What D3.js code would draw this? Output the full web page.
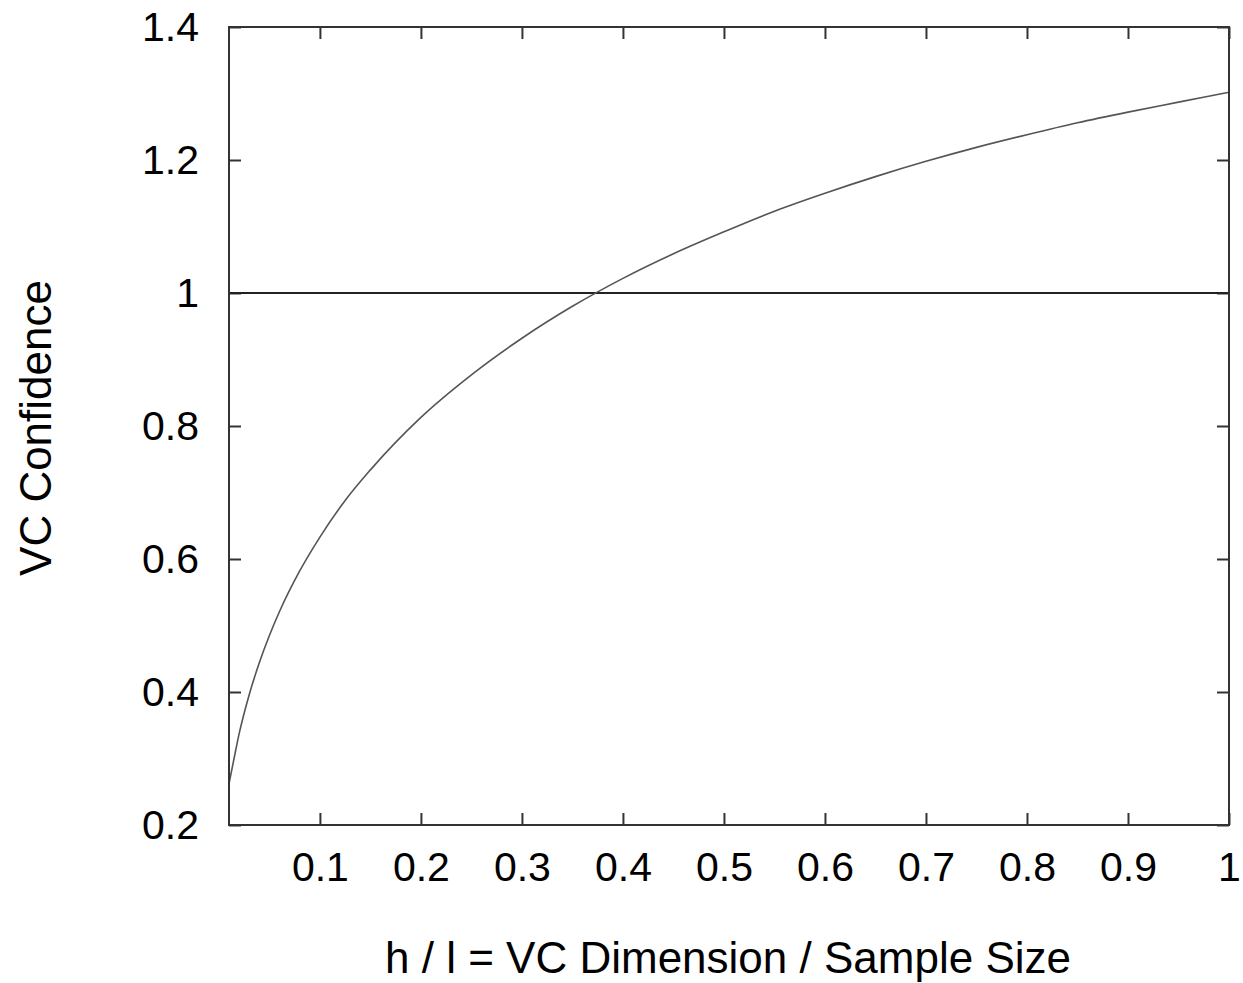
<!DOCTYPE html>
<html>
<head>
<meta charset="utf-8">
<script src="https://cdn.jsdelivr.net/npm/d3@7"></script>
<style>
    body { margin: 0; background: #fff; }
    text { font-family: "Liberation Sans", Arial, sans-serif; fill: #000; }
</style>
</head>
<body>
<div class="chart"></div>
<script>
// values
var ratios = [0.01, 0.015, 0.02, 0.03, 0.04, 0.05, 0.06, 0.08, 0.1, 0.125, 0.15, 0.2, 0.25, 0.3, 0.35,
    0.4, 0.45, 0.5, 0.55, 0.6, 0.65, 0.7, 0.75, 0.8, 0.85, 0.9, 0.95, 1];
var confidence = [0.262, 0.300, 0.337, 0.396, 0.444, 0.485, 0.521, 0.582, 0.633, 0.688, 0.734, 0.813, 0.877,
    0.932, 0.980, 1.022, 1.059, 1.092, 1.123, 1.150, 1.175, 1.198, 1.219, 1.238, 1.256, 1.272, 1.287, 1.302];
var xTicks = [0.1, 0.2, 0.3, 0.4, 0.5, 0.6, 0.7, 0.8, 0.9, 1];
var yTicks = [0.2, 0.4, 0.6, 0.8, 1, 1.2, 1.4];
var refLine = 1;

var margin = {top: 27, right: 14, bottom: 158, left: 229},
    width = 1243 - margin.left - margin.right,
    height = 983 - margin.top - margin.bottom;

var x = d3.scaleLinear().domain([0.01, 1]).range([0, width]);
var y = d3.scaleLinear().domain([0.2, 1.4]).range([height, 0]);

var svg = d3.select(".chart").append("svg")
    .attr("width", 1243)
    .attr("height", 983)
    .append("g")
    .attr("transform", "translate(" + margin.left + "," + margin.top + ")");

var tickLen = 12;

// ticks on all four sides, pointing inward
function styleAxis(g) {
    g.select(".domain").remove();
    g.selectAll("line").attr("stroke", "#333").attr("stroke-width", 2);
    g.selectAll("text").style("font-size", "41px").attr("fill", "#000");
}

svg.append("g")
    .attr("transform", "translate(0," + height + ")")
    .call(d3.axisBottom(x).tickValues(xTicks).tickSize(-tickLen).tickPadding(27)
        .tickFormat(function (d) { return d3.format("")(d); }))
    .call(styleAxis);

svg.append("g")
    .call(d3.axisTop(x).tickValues(xTicks).tickSize(-tickLen).tickFormat(""))
    .call(styleAxis);

svg.append("g")
    .call(d3.axisLeft(y).tickValues(yTicks).tickSize(-tickLen).tickPadding(30)
        .tickFormat(function (d) { return d3.format("")(d); }))
    .call(styleAxis);

svg.append("g")
    .attr("transform", "translate(" + width + ",0)")
    .call(d3.axisRight(y).tickValues(yTicks).tickSize(-tickLen).tickFormat(""))
    .call(styleAxis);

// reference line at 1
svg.append("path")
    .attr("d", "M0 " + y(refLine) + " L " + width + " " + y(refLine))
    .attr("stroke", "#222")
    .attr("stroke-width", 2)
    .attr("fill", "none");

// the curve
var data = ratios.map(function (r, i) {
    return {r: r, v: confidence[i]};
});

var valueline = d3.line()
    .curve(d3.curveMonotoneX)
    .x(function (d) { return x(d.r); })
    .y(function (d) { return y(d.v); });

svg.append("path")
    .data([data])
    .attr("d", valueline)
    .attr("fill", "none")
    .attr("stroke", "#555")
    .attr("stroke-width", 1.6);

// frame
svg.append("rect")
    .attr("width", width)
    .attr("height", height)
    .attr("fill", "none")
    .attr("stroke", "#333")
    .attr("stroke-width", 2);

// axis titles
svg.append("text")
    .attr("x", (383 + 1073) / 2 - margin.left)
    .attr("y", 958 - margin.top)
    .attr("dy", "0.35em")
    .attr("text-anchor", "middle")
    .style("font-size", "44px")
    .text("h / l = VC Dimension / Sample Size");

svg.append("text")
    .attr("transform", "translate(" + (36 - margin.left) + "," + (428 - margin.top) + ") rotate(-90)")
    .attr("dy", "0.35em")
    .attr("text-anchor", "middle")
    .style("font-size", "44px")
    .text("VC Confidence");
</script>
</body>
</html>
